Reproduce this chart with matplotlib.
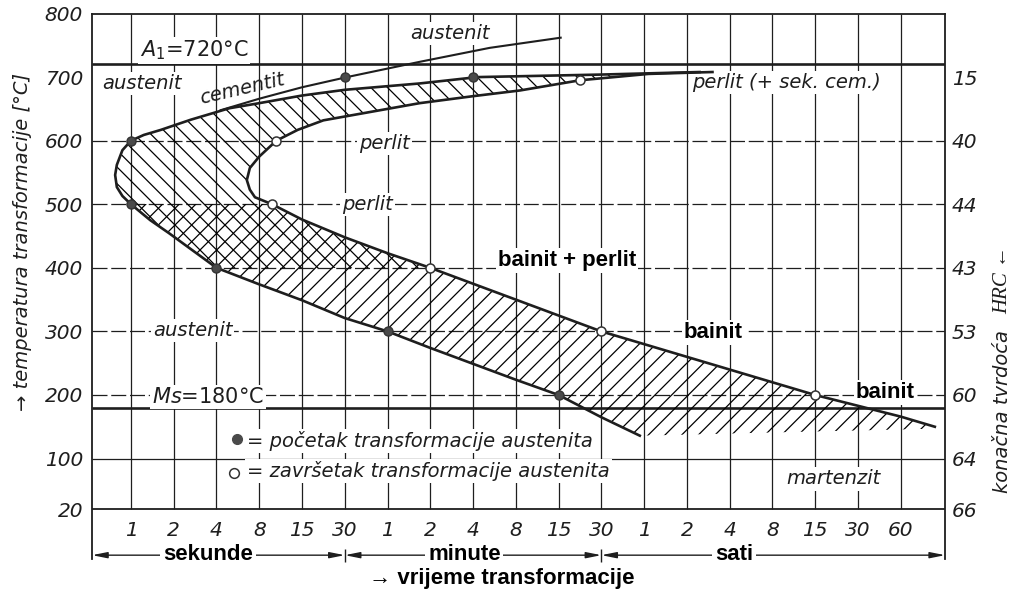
import matplotlib
matplotlib.use('Agg')
import matplotlib.pyplot as plt
from matplotlib.patches import Polygon, Rectangle

# time axis: equally spaced steps 1 s ... 60 h (x = step index)
time_labels = ['1', '2', '4', '8', '15', '30',
               '1', '2', '4', '8', '15', '30',
               '1', '2', '4', '8', '15', '30', '60']
unit_names = ['sekunde', 'minute', 'sati']
unit_edges = [5, 11]

temp_ticks = [20, 100, 200, 300, 400, 500, 600, 700, 800]
hrc_ticks = [20, 100, 200, 300, 400, 500, 600, 700]
hrc_labels = ['66', '64', '60', '53', '43', '44', '40', '15']

# start of transformation (outer C curve)
start_x = [13.3, 11.0, 8.1, 6.75, 5.0, 4.0, 3.0, 2.3, 1.4, 0.7, 0.3, 0.0, -0.2, -0.33, -0.37,
           -0.33, -0.2, 0.0, 0.45, 0.9, 2.0, 3.0, 4.0, 5.0, 6.0, 7.0, 8.0, 9.0, 10.0, 11.0, 11.9]
start_T = [708, 704, 700, 690, 680, 671, 659, 651, 633, 617, 609, 600, 585, 562, 546,
           527, 513, 500, 475, 454, 400, 374, 349, 321, 300, 274, 249, 224, 200, 165, 136]

# end of transformation (inner C curve)
finish_x = [13.6, 12.1, 10.5, 9.1, 8.0, 6.75, 5.5, 4.5, 3.9, 3.4, 3.0, 2.78, 2.71, 2.78, 2.9, 3.3,
            4.0, 5.0, 6.0, 7.0, 8.0, 9.0, 10.0, 11.0, 12.0, 13.0, 14.0, 15.0, 16.0, 17.0, 18.0, 18.8]
finish_T = [708, 705, 695, 679, 670, 659, 644, 632, 617, 600, 575, 557, 538, 523, 511, 500,
            476, 448, 423, 400, 375, 350, 325, 300, 280, 260, 240, 220, 200, 183, 166, 150]

# austenit / cementit boundary
cem_x = [2.1, 3.0, 4.0, 5.05, 6.75, 8.39, 10.05]
cem_T = [648, 666, 684, 700, 724, 746, 762]

# lower edge of hatching right of the start curve
hatch_bot_x = [12.6, 15.0, 18.8]
hatch_bot_T = [137, 141, 147]

start_dot_x = [5, 8, 0, 0, 2, 6, 10]
start_dot_T = [700, 700, 600, 500, 400, 300, 200]
finish_dot_x = [10.5, 3.4, 3.3, 7, 11, 16]
finish_dot_T = [695, 600, 500, 400, 300, 200]

A1 = 720
Ms = 180

xmin, xmax = -0.91, 19.04
ymin, ymax = -58, 800
ink = '#1e1e1e'

plt.rcParams['hatch.linewidth'] = 0.9
plt.rcParams['hatch.color'] = '#2a2a2a'

fig = plt.figure(figsize=(10.16, 5.96), dpi=100)
ax = fig.add_axes([0.0906, 0.0621, 0.8396, 0.9152])
ax.set_xlim(xmin, xmax)
ax.set_ylim(ymin, ymax)

# grid
ax.vlines(range(len(time_labels)), 20, 800, color=ink, lw=0.9, zorder=1)
ax.hlines([200, 300, 400, 500, 600], xmin, xmax, color=ink, lw=0.9, ls=(0, (12, 3)), zorder=1)
ax.hlines([100], xmin, xmax, color=ink, lw=0.9, zorder=1)
ax.hlines([20], xmin, xmax, color=ink, lw=1.3, zorder=1)
ax.hlines([A1, Ms], xmin, xmax, color=ink, lw=1.9, zorder=1)

# hatched band between start and finish
band = list(zip(start_x, start_T)) + list(zip(hatch_bot_x, hatch_bot_T)) + \
    list(zip(finish_x[::-1], finish_T[::-1]))
perl = Polygon(band, closed=True, fill=False, lw=0, hatch='\\\\', zorder=2)
bain = Polygon(band, closed=True, fill=False, lw=0, hatch='//', zorder=2)
ax.add_patch(perl)
ax.add_patch(bain)
perl.set_clip_path(Rectangle((xmin, 400), xmax - xmin, 500, transform=ax.transData))
bain.set_clip_path(Rectangle((xmin, -100), xmax - xmin, 600, transform=ax.transData))

# curves
ax.plot(start_x, start_T, color=ink, lw=1.9, zorder=4)
ax.plot(finish_x, finish_T, color=ink, lw=1.9, zorder=4)
ax.plot(cem_x, cem_T, color=ink, lw=1.5, zorder=4)
ax.plot(start_dot_x, start_dot_T, 'o', ms=6.5, mfc='#4a4a4a', mec='#333', zorder=5)
ax.plot(finish_dot_x, finish_dot_T, 'o', ms=6.5, mfc='white', mec='#333', mew=1.1, zorder=5)

box = dict(fc='white', ec='none', pad=1.5)
it = dict(fontsize=14, style='italic', color=ink, ha='center', va='center', zorder=3)
bold = dict(fontsize=16, family='Liberation Sans', weight='bold', color='black',
            ha='center', va='center', zorder=3, bbox=box)

ax.text(1.47, 742, '$A_1$=720°C', fontsize=15, color=ink, ha='center', va='center', zorder=3, bbox=box)
ax.text(1.8, 197, '$Ms$=180°C', fontsize=15, color=ink, ha='center', va='center', zorder=3, bbox=box)
ax.text(0.26, 690, 'austenit', bbox=box, **it)
ax.text(2.6, 681, 'cementit', rotation=13, **it)
ax.text(7.45, 769, 'austenit', bbox=box, **it)
ax.text(15.33, 691, 'perlit (+ sek. cem.)', bbox=box, **it)
ax.text(5.93, 596, 'perlit', bbox=box, **it)
ax.text(5.53, 500, 'perlit', bbox=box, **it)
ax.text(1.44, 301, 'austenit', bbox=box, **it)
ax.text(16.43, 68, 'martenzit', bbox=box, **it)
ax.text(10.19, 412, 'bainit + perlit', **bold)
ax.text(13.62, 299, 'bainit', **bold)
ax.text(17.64, 204, 'bainit', **bold)

# key
ax.plot([2.47], [131], 'o', ms=7, mfc='#4a4a4a', mec='#4a4a4a', zorder=6)
ax.plot([2.42], [78], 'o', ms=7, mfc='white', mec='#333', mew=1.1, zorder=6)
ax.text(2.72, 128, '= početak transformacije austenita', bbox=box, **{**it, 'ha': 'left'})
ax.text(2.72, 80, '= završetak transformacije austenita', bbox=box, **{**it, 'ha': 'left'})

# time tick labels
for i, lab in enumerate(time_labels):
    ax.text(i, -13, lab, fontsize=14.5, style='italic', color=ink, ha='center', va='center')

# unit arrows
edges = [xmin] + unit_edges + [xmax]
unit_pos = [1.8, 7.8, 14.1]
for k, name in enumerate(unit_names):
    ax.annotate('', xy=(edges[k + 1], -52), xytext=(edges[k], -52),
                arrowprops=dict(arrowstyle='<|-|>,head_length=0.9,head_width=0.18',
                                color=ink, lw=1.0, shrinkA=0, shrinkB=0))
    ax.text(unit_pos[k], -51, name, fontsize=16, family='Liberation Sans', weight='bold',
            ha='center', va='center', zorder=3, bbox=dict(fc='white', ec='none', pad=2))
ax.vlines(unit_edges, -62, -42, color=ink, lw=1.0, clip_on=False)

# axes
ax.set_xticks([])
ax.set_yticks(temp_ticks)
ax.set_yticklabels([str(t) for t in temp_ticks], fontstyle='italic')
ax.tick_params(axis='y', length=0, pad=6.5, labelsize=14.5, labelcolor=ink)
ax.spines['bottom'].set_visible(False)
for s in ['left', 'right', 'top']:
    ax.spines[s].set_linewidth(1.3)
    ax.spines[s].set_color(ink)

ax2 = ax.twinx()
ax2.set_ylim(ymin, ymax)
ax2.set_yticks(hrc_ticks)
ax2.set_yticklabels(hrc_labels, fontstyle='italic')
ax2.tick_params(axis='y', length=0, pad=5, labelsize=14.5, labelcolor=ink)
for s in ax2.spines.values():
    s.set_visible(False)

fig.text(0.022, 0.594, '→ temperatura transformacije [°C]', rotation=90, fontsize=14,
         style='italic', color=ink, ha='center', va='center')
fig.text(0.987, 0.31, 'konačna tvrdoća', rotation=90, fontsize=14,
         style='italic', color=ink, ha='center', va='center')
fig.text(0.987, 0.53, 'HRC ←', rotation=90, fontsize=15, style='italic',
         family=['Liberation Serif', 'DejaVu Serif'], color=ink, ha='center', va='center')
fig.text(0.494, 0.030, '→ vrijeme transformacije', fontsize=16, family='Liberation Sans',
         weight='bold', ha='center', va='center')

fig.savefig('out.png', dpi=100)
